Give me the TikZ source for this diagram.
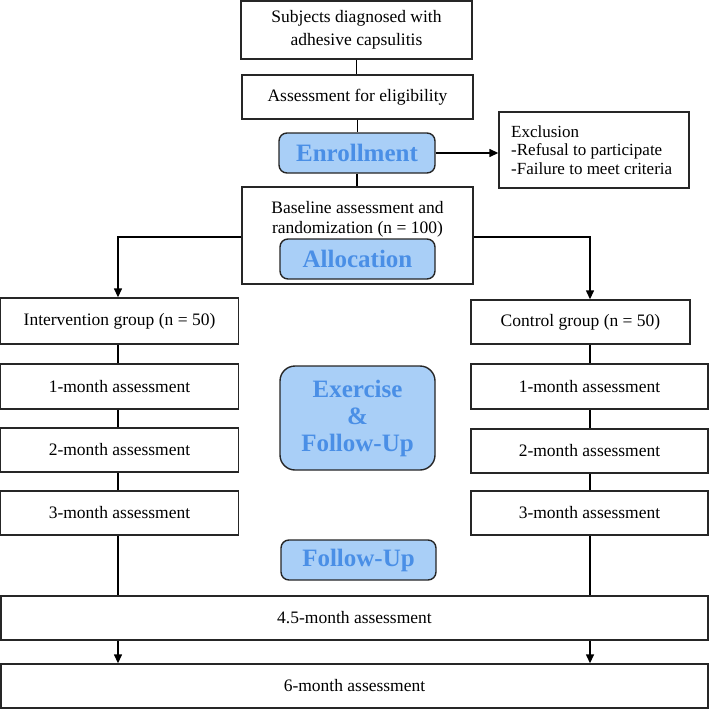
\documentclass[tikz,border=0pt]{standalone}
\usepackage{fontspec}
\setmainfont{Liberation Serif}
\usetikzlibrary{arrows.meta,calc}
\definecolor{bfill}{HTML}{A9CFF7}
\definecolor{btext}{HTML}{4A8FE6}
\definecolor{edge}{HTML}{262626}
\begin{document}
\begin{tikzpicture}[x=1pt,y=-1pt,
  box/.style={draw=edge,line width=1.4pt,fill=white,rectangle,inner sep=0pt,align=center,
    font=\fontsize{17.5}{23}\selectfont},
  phase/.style={draw=edge,line width=1.4pt,fill=bfill,rounded corners=8pt,inner sep=0pt,align=center,
    text=btext,font=\fontsize{25}{27}\selectfont\bfseries},
  conn/.style={line width=1.4pt,black},
  arr/.style={conn,-{Triangle[length=9pt,width=8pt]}}]
\useasboundingbox (0,0) rectangle (709,709);
% top chain
\node[box,minimum width=231pt,minimum height=58pt] (subj) at (356.5,30) {Subjects diagnosed with\\adhesive capsulitis};
\node[box,minimum width=231pt,minimum height=44pt] (elig) at (357.5,97) {Assessment for eligibility};
\node[phase,minimum width=156pt,minimum height=40pt] (enr) at (357,153) {Enrollment};
\node[box,minimum width=190pt,minimum height=76pt] (excl) at (594,150) {};
\node[anchor=west,align=left,inner sep=0pt,font=\fontsize{17}{18.5}\selectfont] (excltxt) at (511,150) {Exclusion\\-Refusal to participate\\-Failure to meet criteria};
\node[box,minimum width=231pt,minimum height=97pt] (base) at (357.5,235.5) {};
\node[inner sep=0pt,align=center,font=\fontsize{17.5}{20}\selectfont] (basetxt) at (357.5,219) {Baseline assessment and\\randomization (n = 100)};
\node[phase,minimum width=155pt,minimum height=40pt] (alloc) at (357.5,259) {Allocation};
% groups
\node[box,minimum width=238pt,minimum height=46pt] (interv) at (119.5,321) {Intervention group (n = 50)};
\node[box,minimum width=219pt,minimum height=44pt] (ctrl) at (580.5,322) {Control group (n = 50)};
\node[box,minimum width=238pt,minimum height=45pt] (L1) at (119.5,386.5) {1-month assessment};
\node[box,minimum width=238pt,minimum height=44pt] (L2) at (119.5,450) {2-month assessment};
\node[box,minimum width=238pt,minimum height=44pt] (L3) at (119.5,513) {3-month assessment};
\node[box,minimum width=237pt,minimum height=45pt] (R1) at (589.5,386.5) {1-month assessment};
\node[box,minimum width=237pt,minimum height=44pt] (R2) at (589.5,451) {2-month assessment};
\node[box,minimum width=237pt,minimum height=44pt] (R3) at (589.5,513) {3-month assessment};
\node[phase,rounded corners=15pt,minimum width=155pt,minimum height=104pt] (ex) at (357.5,418) {Exercise\\\&\\Follow-Up};
\node[phase,minimum width=155pt,minimum height=40pt] (fu) at (358.5,560) {Follow-Up};
\node[box,minimum width=707pt,minimum height=44pt] (m45) at (354.5,618) {4.5-month assessment};
\node[box,minimum width=707pt,minimum height=44pt] (m6) at (354.5,686) {6-month assessment};
% coordinates
\coordinate (lx) at (118,0);
\coordinate (rx) at (590,0);
\coordinate (split) at (0,237);
% connectors
\draw[conn] (subj.south) -- (subj.south |- elig.north);
\draw[conn] (elig.south) -- (elig.south |- enr.north);
\draw[conn] (enr.south) -- (enr.south |- base.north);
\draw[arr] (enr.east) -- (enr.east -| excl.west);
\draw[arr] (base.west |- split) -| (lx |- interv.north);
\draw[arr] (base.east |- split) -| (rx |- ctrl.north);
\draw[conn] (lx |- interv.south) -- (lx |- L1.north);
\draw[conn] (lx |- L1.south) -- (lx |- L2.north);
\draw[conn] (lx |- L2.south) -- (lx |- L3.north);
\draw[conn] (lx |- L3.south) -- (lx |- m45.north);
\draw[conn] (rx |- ctrl.south) -- (rx |- R1.north);
\draw[conn] (rx |- R1.south) -- (rx |- R2.north);
\draw[conn] (rx |- R2.south) -- (rx |- R3.north);
\draw[conn] (rx |- R3.south) -- (rx |- m45.north);
\draw[arr] (lx |- m45.south) -- (lx |- m6.north);
\draw[arr] (rx |- m45.south) -- (rx |- m6.north);
\end{tikzpicture}
\end{document}
